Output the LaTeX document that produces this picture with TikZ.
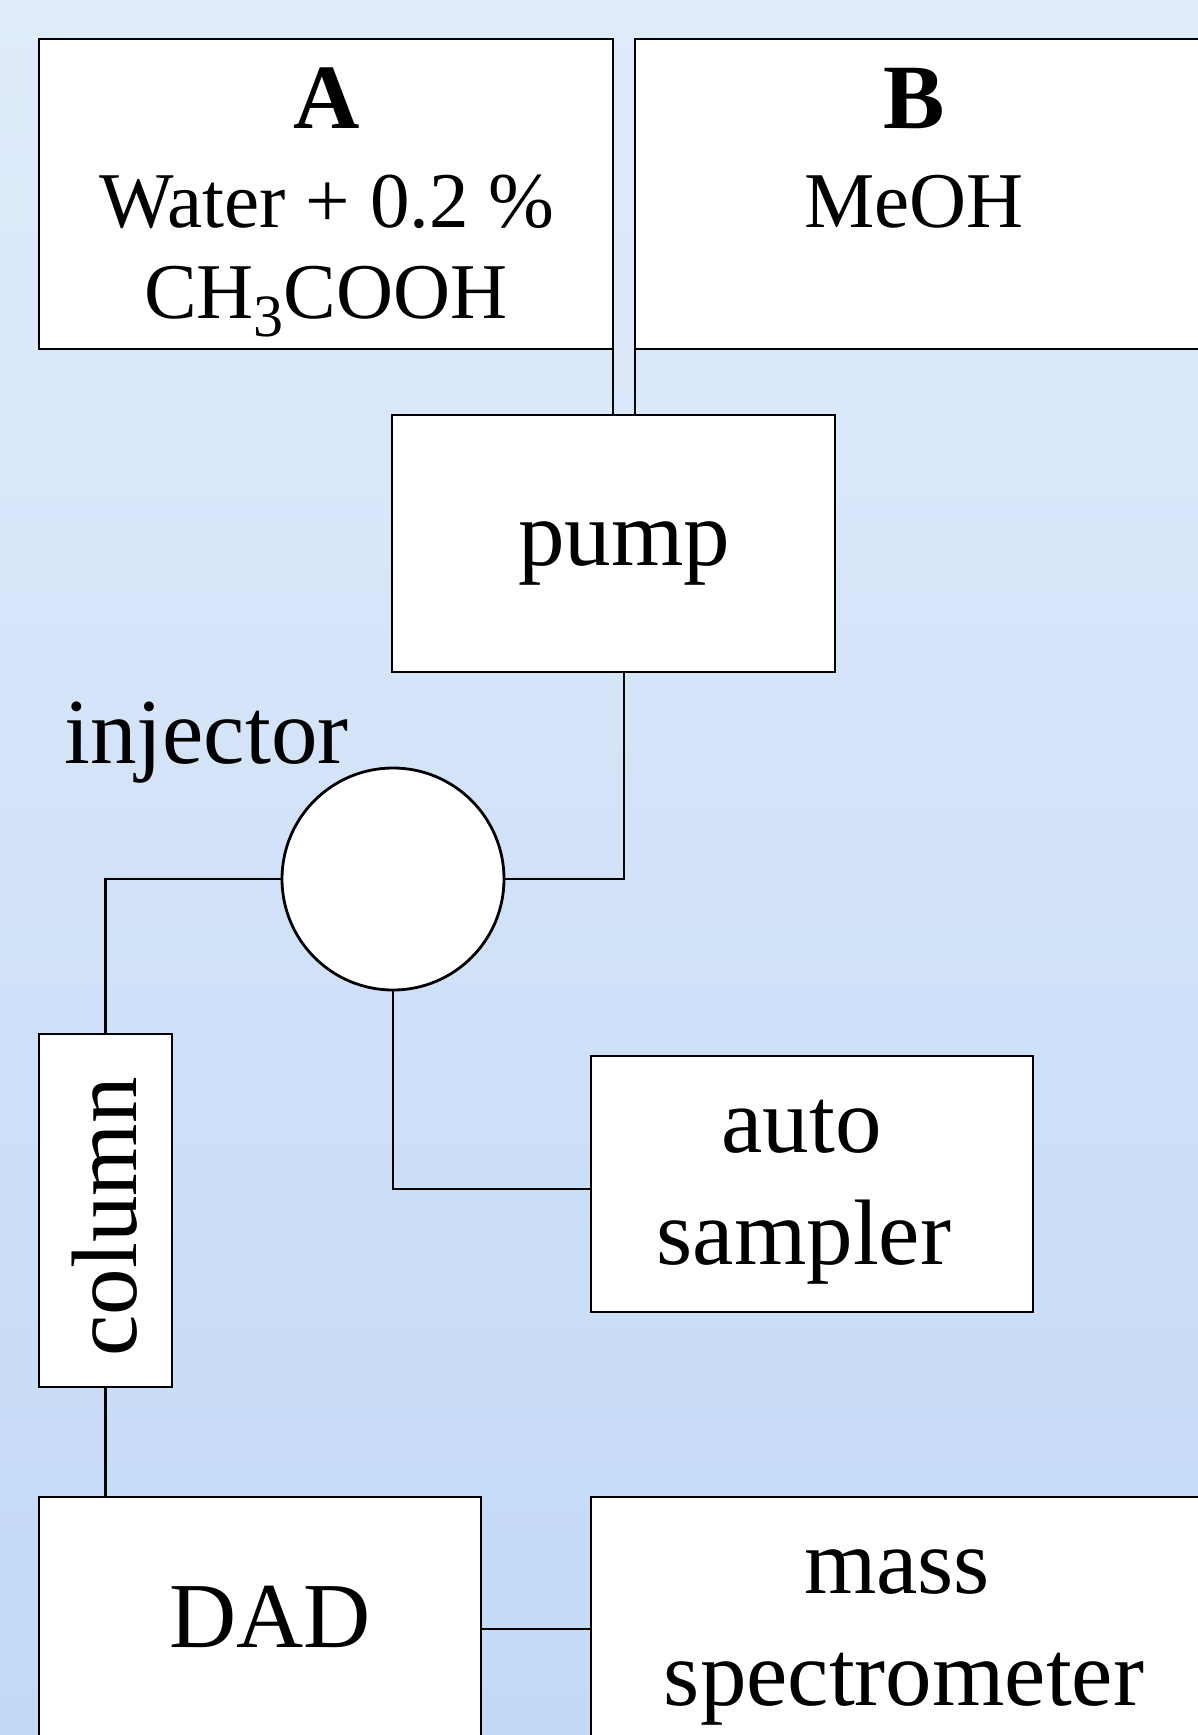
\documentclass[tikz,border=0pt]{standalone}
\usepackage{fontspec}
\setmainfont{Liberation Serif}
\usepackage{xcolor}
\usepackage{tikz}
\usetikzlibrary{positioning,calc}
\definecolor{SkyTop}{HTML}{E0ECFB}
\definecolor{SkyBottom}{HTML}{C3D9F6}

\begin{document}
\begin{tikzpicture}[x=0.5pt,y=-0.5pt,
  unit/.style={draw=black,fill=white,line width=1.4pt,inner sep=0pt,outer sep=0pt},
  pipe/.style={draw=black,line width=1.3pt},
  lbl/.style={anchor=base,inner sep=0pt,font=\fontsize{46.5pt}{56pt}\selectfont},
  sub/.style={anchor=base,inner sep=0pt,font=\fontsize{39.5pt}{47pt}\selectfont},
  head/.style={anchor=base,inner sep=0pt,font=\fontsize{46pt}{55pt}\selectfont\bfseries}]
\useasboundingbox (0,0) rectangle (1198,1735);
\shade[top color=SkyTop,bottom color=SkyBottom] (0,0) rectangle (1198,1735);
\clip (0,0) rectangle (1198,1735);
\node[unit,minimum width=287pt,minimum height=155pt] (resA) at (326,194) {};
\node[unit,minimum width=287pt,minimum height=155pt] (resB) at (922,194) {};
\node[unit,minimum width=221.5pt,minimum height=128.5pt] (pump) at (613.5,543.5) {};
\node[unit,circle,minimum size=111pt] (inj) at (393,879) {};
\node[unit,minimum width=66.5pt,minimum height=176.5pt] (col) at (105.5,1210.5) {};
\node[unit,minimum width=221pt,minimum height=128pt] (auto) at (812,1184) {};
\node[unit,minimum width=221pt,minimum height=121.5pt] (dad) at (260,1618.5) {};
\node[unit,minimum width=309pt,minimum height=151.5pt] (ms) at (900,1648.5) {};
\draw[pipe] (resA.south east) -- (resA.south east |- pump.north);
\draw[pipe] (resB.south west) -- (resB.south west |- pump.north);
\draw[pipe] ([xshift=5.25pt]pump.south) |- (inj.east);
\draw[pipe] (inj.west) -| (col.north);
\draw[pipe] (inj.south) |- ([yshift=-2.5pt]auto.west);
\draw[pipe] (col.south) -- (col.south |- dad.north);
\draw[pipe] ([yshift=-5.25pt]dad.east) -- ([yshift=-5.25pt]dad.east -| ms.west);
\node[head] (tA) at (327,128) {A};
\node[sub] (tAa) at (327,227) {Water + 0.2 \%};
\node[sub] (tAb) at (326,318) {CH\raisebox{-9pt}{\fontsize{30pt}{32pt}\selectfont 3}COOH};
\node[head] (tB) at (914,128) {B};
\node[sub] (tBa) at (914,227) {MeOH};
\node[lbl] (tpump) at (624,565) {pump};
\node[lbl,anchor=base west] (tinj) at (64,763) {injector};
\node[lbl,rotate=90] (tcol) at (136,1217) {column};
\node[lbl] (tauto) at (801.5,1152) {auto};
\node[lbl] (tsamp) at (804,1264) {sampler};
\node[lbl] (tdad) at (270,1647) {DAD};
\node[lbl] (tmass) at (897,1593) {mass};
\node[lbl] (tspec) at (904,1705) {spectrometer};
\end{tikzpicture}
\end{document}
